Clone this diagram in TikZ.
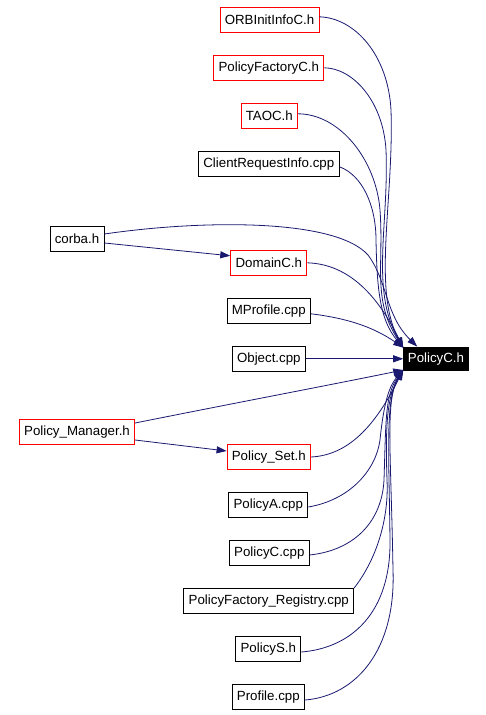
\documentclass[tikz,border=0pt]{standalone}
\usepackage{fontspec}
\setmainfont{Liberation Sans}
\usepackage{tikz}
\usetikzlibrary{arrows.meta}
\definecolor{edgeblue}{HTML}{191970}

\begin{document}
\begin{tikzpicture}[x=1pt,y=-1pt,font=\fontsize{13.3}{15}\selectfont,
  file/.style={draw,line width=0.9pt,minimum height=25pt,inner xsep=4.8pt,inner ysep=0pt},
  redfile/.style={file,draw=red},
  self/.style={fill=black,text=white,minimum height=24pt,inner xsep=4.5pt,inner ysep=0pt},
  dep/.style={draw=edgeblue,line width=0.8pt,-{Triangle[length=10pt,width=7pt]}}]
\useasboundingbox (0,0) rectangle (486,715);
% files on the right column
\node[redfile] (orb) at (269.5,19.8) {ORBInitInfoC.h};
\node[redfile] (pfc) at (268.8,67.8) {PolicyFactoryC.h};
\node[redfile] (taoc) at (269.3,115.8) {TAOC.h};
\node[file] (cri) at (268.8,163.8) {ClientRequestInfo.cpp};
\node[file] (corba) at (77,239) {corba.h};
\node[redfile] (domc) at (268.8,262.8) {DomainC.h};
\node[file] (mprof) at (268.8,310.8) {MProfile.cpp};
\node[file] (obj) at (268.8,358.8) {Object.cpp};
\node[self] (polc) at (436,358.8) {PolicyC.h};
\node[redfile] (pman) at (77,432) {Policy\_Manager.h};
\node[redfile] (pset) at (268.8,457) {Policy\_Set.h};
\node[file] (pa) at (268.3,505) {PolicyA.cpp};
\node[file] (pcc) at (269.3,553) {PolicyC.cpp};
\node[file] (pfr) at (268.8,601) {PolicyFactory\_Registry.cpp};
\node[file] (ps) at (268.3,649) {PolicyS.h};
\node[file] (prof) at (268.3,697) {Profile.cpp};
% edges from above
\draw[dep] ([yshift=3pt]orb.east) .. controls (355,18) and (388,55) .. (391,110) .. controls (394,200) and (372,290) .. ([yshift=-1pt]polc.north west);
\draw[dep] (pfc.east) .. controls (352,68) and (383,100) .. (386,150) .. controls (389,225) and (370,290) .. ([yshift=-1pt]polc.north west);
\draw[dep] ([yshift=2pt]taoc.east) .. controls (340,114) and (376,160) .. (380,210) .. controls (384,265) and (372,300) .. ([yshift=-1pt]polc.north west);
\draw[dep] ([yshift=-3pt]cri.east) .. controls (362,175) and (376,205) .. (376,240) .. controls (377,290) and (380,320) .. ([yshift=-1pt]polc.north west);
\draw[dep] ([yshift=5pt]corba.east) .. controls (200,220) and (335,218) .. (368,255) .. controls (388,282) and (385,315) .. ([xshift=14pt]polc.north west);
\draw[dep] ([yshift=-4pt]corba.east) -- ([yshift=7pt]domc.west);
\draw[dep] (domc.east) .. controls (345,264) and (375,290) .. ([yshift=-1pt]polc.north west);
\draw[dep] ([yshift=-3pt]mprof.east) .. controls (345,318) and (372,326) .. ([yshift=-1pt]polc.north west);
\draw[dep] (obj) -- (polc);
% edges from below
\draw[dep] ([yshift=9pt]pman.east) .. controls (240,402) and (330,385) .. ([yshift=1pt]polc.south west);
\draw[dep] ([yshift=-8pt]pman.east) -- ([yshift=6pt]pset.west);
\draw[dep] (pset.east) .. controls (352,455) and (378,420) .. ([yshift=1pt]polc.south west);
\draw[dep] ([yshift=-2pt]pa.east) .. controls (350,500) and (376,470) .. (380,440) .. controls (384,400) and (390,385) .. ([yshift=1pt]polc.south west);
\draw[dep] ([yshift=-2pt]pcc.east) .. controls (356,550) and (382,520) .. (384,480) .. controls (386,420) and (385,395) .. ([yshift=1pt]polc.south west);
\draw[dep] (pfr.north east) .. controls (376,560) and (389,520) .. (387,480) .. controls (385,420) and (388,395) .. ([yshift=1pt]polc.south west);
\draw[dep] ([yshift=-3pt]ps.east) .. controls (352,648) and (391,612) .. (390,540) .. controls (389,450) and (385,400) .. ([yshift=1pt]polc.south west);
\draw[dep] ([yshift=-3pt]prof.east) .. controls (356,696) and (396,650) .. (393,570) .. controls (391,450) and (385,400) .. ([yshift=1pt]polc.south west);
\end{tikzpicture}
\end{document}
